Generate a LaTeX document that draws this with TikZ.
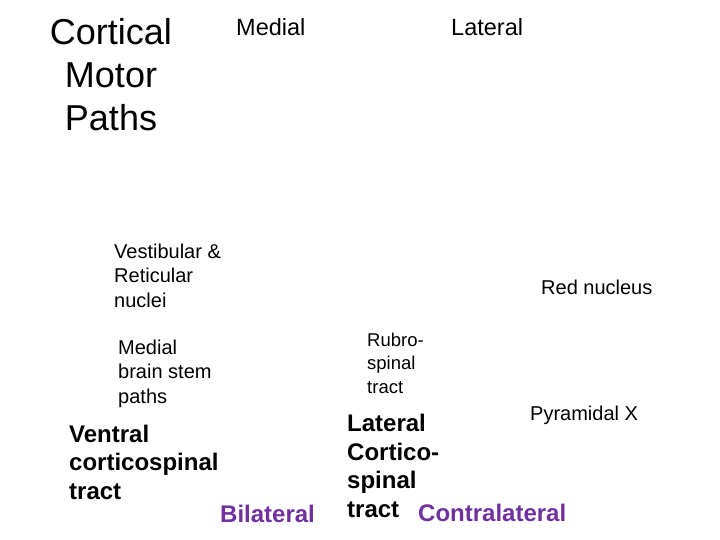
\documentclass[tikz,border=0pt]{standalone}
\usepackage{fontspec}
\setmainfont{Liberation Sans}
\usepackage{xcolor}
\usepackage{tikz}
\usetikzlibrary{positioning}
\definecolor{tractpurple}{HTML}{7030A0}
\tikzset{
  txt/.style={inner sep=0pt,anchor=base west,align=left},
  big/.style={font=\fontsize{36}{43}\selectfont},
  head/.style={font=\fontsize{23.5}{28}\selectfont},
  small/.style={font=\fontsize{20}{24.5}\selectfont},
  tiny/.style={font=\fontsize{18.5}{23.5}\selectfont},
  tract/.style={font=\bfseries\fontsize{24}{28.5}\selectfont},
}

\begin{document}
\begin{tikzpicture}[x=1pt,y=-1pt]
  \useasboundingbox (0,0) rectangle (720,540);
  % multi-line nodes sit on the baseline of their last line
  \node[txt,big,anchor=base,align=center] (title) at (111,131) {Cortical\\Motor\\Paths};
  \node[txt,head] (medial) at (236,36) {Medial};
  \node[txt,head] (lateral) at (451,36) {Lateral};
  \node[txt,small] (vestib) at (114,307) {Vestibular \&\\Reticular\\nuclei};
  \node[txt,small] (rednuc) at (541,294) {Red nucleus};
  \node[txt,small] (medbs) at (118,403) {Medial\\brain stem\\paths};
  \node[txt,tiny] (rubro) at (367,393) {Rubro-\\spinal\\tract};
  \node[txt,small] (pyrx) at (530,420) {Pyramidal X};
  \node[txt,tract] (ventral) at (69,499) {Ventral\\corticospinal\\tract};
  \node[txt,tract] (latcs) at (347,517) {Lateral\\Cortico-\\spinal\\tract};
  \node[txt,tract,tractpurple] (bilat) at (220,522) {Bilateral};
  \node[txt,tract,tractpurple] (contra) at (418,521) {Contralateral};
\end{tikzpicture}
\end{document}
